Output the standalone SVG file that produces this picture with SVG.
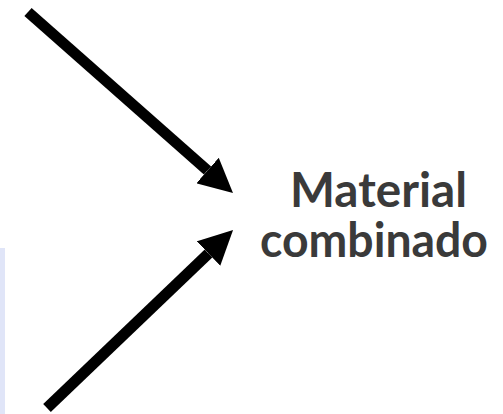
<svg xmlns="http://www.w3.org/2000/svg" width="503" height="414" viewBox="0 0 503 414">
<style>
.arrow{stroke:#000;stroke-width:11;fill:none;marker-end:url(#head)}
.label{font-family:Lato,"Open Sans","Liberation Sans",sans-serif;font-weight:bold;font-size:47px;fill:#3a3a3a;text-anchor:middle}
</style>
<defs>
<marker id="head" viewBox="0 0 34 34" refX="0" refY="17" markerWidth="34" markerHeight="34" markerUnits="userSpaceOnUse" orient="auto">
<path d="M0,0 L34,17 L0,34 z" fill="#000"/>
</marker>
</defs>
<rect id="side-panel" x="0" y="248" width="5" height="166" fill="#e0e5f8"/>
<g id="connectors">
<line class="arrow" x1="28" y1="12" x2="207.5" y2="170.5"/>
<line class="arrow" x1="47" y1="408" x2="208.5" y2="253.5"/>
</g>
<g id="material-combinado">
<text class="label" x="378.5" y="207" textLength="177" lengthAdjust="spacingAndGlyphs">Material</text>
<text class="label" x="374" y="257" textLength="228" lengthAdjust="spacingAndGlyphs">combinado</text>
</g>
</svg>
